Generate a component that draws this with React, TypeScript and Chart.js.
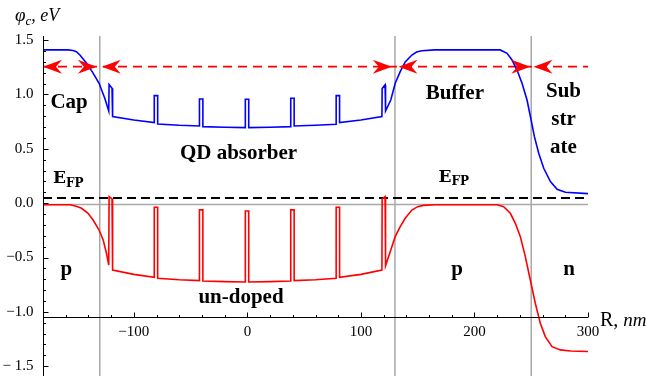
import { useEffect, useRef } from "react";
import { Chart, registerables } from "chart.js";

Chart.register(...registerables);

// ---------- axis ranges ----------
const X_MIN = -180;
const X_MAX = 300;
const Y_MIN = -1.59;
const Y_MAX = 1.538;
const AXIS_ORIGIN_Y = -1.047;

// ---------- ticks ----------
const X_TICKS = [-100, 0, 100, 200, 300];
const X_TICK_LABELS = ["\u2212100", "0", "100", "200", "300"];
const Y_TICKS = [1.5, 1.0, 0.5, 0.0, -0.5, -1.0, -1.5];
const Y_TICK_LABELS = ["1.5", "1.0", "0.5", "0.0", "\u22120.5", "\u22121.0", "\u2212 1.5"];

// ---------- conduction band (blue) ----------
const CB_X = [
  -180, -158, -153.6, -150.6, -147.5, -141.6, -136.7, -130.6, -125.6, -122.1,
  -121.8, -119.2, -118.7,
  -100, -82, -82, -79, -79,
  -60, -42.2, -42.2, -39.2, -39.2,
  -20, -1.8, -1.8, 1.2, 1.2,
  20, 38.2, 38.2, 41.2, 41.2,
  60, 78.2, 78.2, 81.2, 81.2,
  100, 118.5, 118.7, 121.3, 121.7,
  126.3, 130.2, 134.6, 139, 144.9, 149, 153.7, 165,
  222.7, 228.7, 233.1, 237.5, 241.9, 246.3, 249.9, 252.8, 256.6, 261, 266.9, 272.8, 280.1, 300,
];
const CB_Y = [
  1.41, 1.41, 1.405, 1.394, 1.363, 1.287, 1.21, 1.103, 0.965, 0.848,
  1.092, 1.058, 0.796,
  0.765, 0.741, 0.989, 0.989, 0.729,
  0.717, 0.71, 0.959, 0.959, 0.704,
  0.698, 0.695, 0.956, 0.956, 0.695,
  0.698, 0.704, 0.965, 0.965, 0.71,
  0.717, 0.726, 0.989, 0.989, 0.741,
  0.765, 0.796, 1.055, 1.09, 0.848,
  0.949, 1.103, 1.21, 1.3, 1.363, 1.39, 1.402, 1.41,
  1.41, 1.379, 1.317, 1.225, 1.103, 0.949, 0.765, 0.612, 0.459, 0.321, 0.198, 0.128, 0.1, 0.088,
];

// ---------- valence band (red) ----------
const VB_X = [
  -180, -156, -150, -146.1, -140.3, -135.9, -130.6, -127, -124.1, -122.1,
  -121.8, -119.2, -118.7,
  -100, -82, -82, -79, -79,
  -60, -42.2, -42.2, -39.2, -39.2,
  -20, -1.8, -1.8, 1.2, 1.2,
  20, 38.2, 38.2, 41.2, 41.2,
  60, 78.2, 78.2, 81.2, 81.2,
  100, 118.5, 118.7, 121.3, 121.7,
  126.3, 130.2, 134.6, 139, 144.9, 150, 155, 165,
  219.9, 225.7, 231.6, 236, 240.4, 244.8, 249.2, 253.6, 258, 262.4, 268.3, 275.7, 284.5, 300,
];
const VB_Y = [
  -0.015, -0.015, -0.03, -0.047, -0.093, -0.155, -0.247, -0.339, -0.461, -0.569,
  0.06, 0.04, -0.615,
  -0.655, -0.682, -0.038, -0.038, -0.691,
  -0.705, -0.713, -0.062, -0.062, -0.716,
  -0.722, -0.725, -0.072, -0.072, -0.725,
  -0.722, -0.716, -0.062, -0.062, -0.713,
  -0.705, -0.691, -0.038, -0.038, -0.682,
  -0.655, -0.615, 0.04, 0.06, -0.575,
  -0.43, -0.308, -0.216, -0.139, -0.063, -0.032, -0.02, -0.015,
  -0.015, -0.032, -0.093, -0.185, -0.308, -0.492, -0.707, -0.921, -1.105, -1.228, -1.32, -1.35, -1.36, -1.365,
];

// ---------- reference levels ----------
const FERMI_LEVEL = 0.048;
const REGION_LEVEL = 1.256;
const ZERO_LEVEL = -0.012;
const BOUNDARIES = [-130, 130, 250];
const ARROW_LEFT_TIPS = [-180, -128.2, 133.1, 252];
const ARROW_RIGHT_TIPS = [-132.6, 127.2, 249.2];

const toPoints = (xs: number[], ys: number[]) => xs.map((x, i) => ({ x, y: ys[i] }));

const SERIF = '"Liberation Serif", "Times New Roman", serif';
const SLAB = '"DejaVu Serif", serif';

const overlayPlugin = {
  id: "overlay",
  afterDatasetsDraw(chart: any) {
    const { ctx, chartArea } = chart;
    const xs = chart.scales.x;
    const ys = chart.scales.y;
    const px = (v: number) => xs.getPixelForValue(v);
    const py = (v: number) => ys.getPixelForValue(v);
    ctx.save();

    // arrowheads
    const ry = py(REGION_LEVEL);
    ctx.fillStyle = "#ff0000";
    const head = (tx: number, dir: number) => {
      const L = 19, H = 7, N = 13;
      ctx.beginPath();
      ctx.moveTo(tx, ry);
      ctx.lineTo(tx - dir * L, ry - H);
      ctx.lineTo(tx - dir * N, ry);
      ctx.lineTo(tx - dir * L, ry + H);
      ctx.closePath();
      ctx.fill();
    };
    ARROW_LEFT_TIPS.forEach((t) => head(px(t), -1));
    ARROW_RIGHT_TIPS.forEach((t) => head(px(t), 1));

    // axes
    const ax = Math.round(px(X_MIN)) + 0.5;
    const ay = Math.round(py(AXIS_ORIGIN_Y)) + 0.5;
    const xEnd = px(X_MAX);
    ctx.strokeStyle = "#000";
    ctx.lineWidth = 1;
    ctx.beginPath();
    ctx.moveTo(ax, chartArea.top);
    ctx.lineTo(ax, chartArea.bottom);
    ctx.moveTo(ax, ay);
    ctx.lineTo(xEnd, ay);
    ctx.stroke();

    // x ticks (inward, up)
    ctx.beginPath();
    for (let v = -160; v <= X_MAX; v += 20) {
      const major = X_TICKS.includes(v);
      const x = Math.round(px(v)) + 0.5;
      ctx.moveTo(x, ay);
      ctx.lineTo(x, ay - (major ? 5 : 2.5));
    }
    // y ticks (inward, right)
    for (let k = -15; k <= 15; k++) {
      const v = k / 10;
      const major = k % 5 === 0;
      const y = Math.round(py(v)) + 0.5;
      ctx.moveTo(ax, y);
      ctx.lineTo(ax + (major ? 5 : 2.5), y);
    }
    ctx.stroke();

    // tick labels
    ctx.fillStyle = "#000";
    ctx.font = `15px ${SERIF}`;
    ctx.textBaseline = "middle";
    ctx.textAlign = "center";
    X_TICKS.forEach((v, i) => ctx.fillText(X_TICK_LABELS[i], px(v), ay + 14.5));
    ctx.textAlign = "right";
    Y_TICKS.forEach((v, i) => ctx.fillText(Y_TICK_LABELS[i], ax - 10, py(v)));

    // axis titles
    ctx.textBaseline = "alphabetic";
    ctx.textAlign = "left";
    let tx = 15;
    ctx.font = `italic 19px ${SERIF}`;
    ctx.fillText("\u03C6", tx, 21);
    tx += ctx.measureText("\u03C6").width;
    ctx.font = `italic 13px ${SERIF}`;
    ctx.fillText("c", tx, 25);
    tx += ctx.measureText("c").width;
    ctx.font = `italic 18px ${SERIF}`;
    ctx.fillText(", eV", tx, 21);

    let rx = xEnd + 12;
    const rBase = ay + 8;
    ctx.font = `20px ${SERIF}`;
    ctx.fillText("R,", rx, rBase);
    rx += ctx.measureText("R, ").width;
    ctx.font = `italic 19px ${SERIF}`;
    ctx.fillText("nm", rx, rBase);

    // region labels
    ctx.font = `bold 21px ${SERIF}`;
    ctx.textAlign = "center";
    const labels: [string, number, number][] = [
      ["Cap", -157, 0.875],
      ["QD absorber", -7.8, 0.404],
      ["Buffer", 182.7, 0.955],
      ["Sub", 278.4, 0.98],
      ["str", 278.4, 0.72],
      ["ate", 278.4, 0.459],
      ["p", -159.4, -0.663],
      ["p", 184.6, -0.663],
      ["n", 283.4, -0.66],
      ["un-doped", -5.6, -0.921],
    ];
    labels.forEach(([t, x, y]) => ctx.fillText(t, px(x), py(y)));

    // E_FP labels
    ctx.textAlign = "left";
    const efp = (x: number, y: number) => {
      ctx.font = `bold 17px ${SLAB}`;
      const X = px(x), Y = py(y);
      ctx.fillText("E", X, Y);
      const w = ctx.measureText("E").width;
      ctx.font = `bold 12px ${SLAB}`;
      ctx.fillText("FP", X + w, Y + 3.5);
    };
    efp(-171.2, 0.183);
    efp(168.4, 0.198);

    ctx.restore();
  },
};

export default function App() {
  const ref = useRef<HTMLCanvasElement | null>(null);

  useEffect(() => {
    if (!ref.current) return;
    const gray = "#a8a8a8";
    const chart = new Chart(ref.current, {
      type: "scatter",
      data: {
        datasets: [
          { data: toPoints(CB_X, CB_Y), borderColor: "#0000ff", borderWidth: 1.6, order: 1 },
          { data: toPoints(VB_X, VB_Y), borderColor: "#ff0000", borderWidth: 1.6, order: 1 },
          {
            data: [{ x: X_MIN, y: FERMI_LEVEL }, { x: X_MAX, y: FERMI_LEVEL }],
            borderColor: "#000000", borderWidth: 2, borderDash: [9, 5], order: 2,
          },
          {
            data: [{ x: X_MIN, y: REGION_LEVEL }, { x: X_MAX, y: REGION_LEVEL }],
            borderColor: "#ff0000", borderWidth: 1.6, borderDash: [9, 6], order: 2,
          },
          {
            data: [{ x: X_MIN, y: ZERO_LEVEL }, { x: X_MAX, y: ZERO_LEVEL }],
            borderColor: gray, borderWidth: 1.5, order: 3,
          },
          ...BOUNDARIES.map((b) => ({
            data: [{ x: b, y: Y_MIN }, { x: b, y: Y_MAX }],
            borderColor: gray, borderWidth: 1.5, order: 3,
          })),
        ].map((d: any) => ({ ...d, showLine: true, pointRadius: 0, tension: 0, fill: false })),
      },
      options: {
        responsive: false,
        animation: false,
        events: [],
        layout: { padding: { left: 43, right: 59, top: 36, bottom: 0 } },
        plugins: { legend: { display: false }, tooltip: { enabled: false } },
        scales: {
          x: { type: "linear", min: X_MIN, max: X_MAX, display: false },
          y: { type: "linear", min: Y_MIN, max: Y_MAX, display: false },
        },
      },
      plugins: [overlayPlugin],
    });
    return () => chart.destroy();
  }, []);

  return (
    <div style={{ position: "absolute", left: 0, top: 0, width: 647, height: 376, background: "#fff" }}>
      <canvas ref={ref} width={647} height={376} style={{ display: "block" }} />
    </div>
  );
}
